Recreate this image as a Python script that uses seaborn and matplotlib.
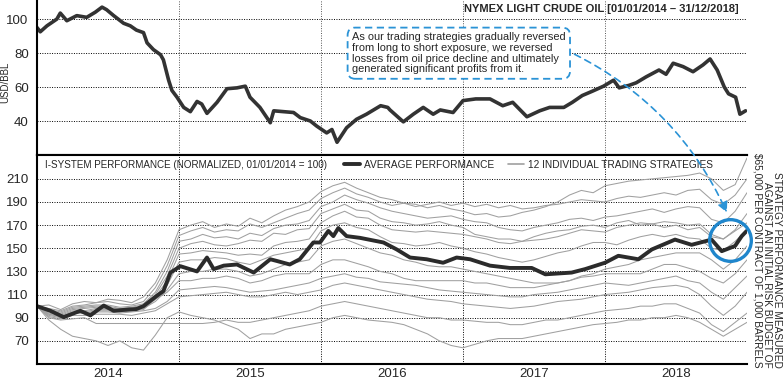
# NYMEX crude oil price vs. i-system strategy performance, 2014-2018
import matplotlib
matplotlib.use("Agg")
import matplotlib.pyplot as plt
from matplotlib.lines import Line2D
from matplotlib.patches import FancyArrowPatch
import numpy as np
import pandas as pd
import seaborn as sns

# --- crude oil price (USD/BBL) ---
oil_t = [2014.000, 2014.023, 2014.070, 2014.140, 2014.164, 2014.210, 2014.280, 2014.350,
         2014.410, 2014.458, 2014.490, 2014.540, 2014.610, 2014.657, 2014.700, 2014.750,
         2014.775, 2014.820, 2014.870, 2014.890, 2014.927, 2014.950, 2014.986, 2015.033,
         2015.080, 2015.127, 2015.160, 2015.197, 2015.268, 2015.338, 2015.408, 2015.467,
         2015.500, 2015.570, 2015.643, 2015.667, 2015.737, 2015.807, 2015.854, 2015.925,
         2015.970, 2016.040, 2016.077, 2016.113, 2016.180, 2016.250, 2016.320, 2016.420,
         2016.470, 2016.486, 2016.580, 2016.650, 2016.720, 2016.790, 2016.840, 2016.930,
         2017.000, 2017.090, 2017.190, 2017.280, 2017.350, 2017.450, 2017.540, 2017.610,
         2017.710, 2017.770, 2017.840, 2017.910, 2017.990, 2018.060, 2018.100, 2018.170,
         2018.220, 2018.290, 2018.380, 2018.430, 2018.480, 2018.550, 2018.620, 2018.690,
         2018.740, 2018.790, 2018.840, 2018.870, 2018.920, 2018.950, 2018.990]
oil_usd = [95.0, 92.5, 96.0, 100.0, 103.5, 99.0, 102.0, 101.0,
           104.0, 107.0, 105.5, 102.0, 97.5, 96.0, 93.5, 92.0,
           86.0, 82.0, 79.0, 76.0, 64.0, 58.0, 54.0, 48.0,
           45.5, 51.5, 50.0, 44.5, 51.0, 59.0, 59.5, 60.5,
           54.0, 48.0, 39.0, 46.0, 45.5, 45.0, 42.0, 40.0,
           37.0, 33.0, 35.0, 27.5, 36.0, 41.0, 44.0, 49.0,
           48.0, 46.5, 39.5, 44.0, 48.0, 44.0, 46.5, 45.0,
           52.0, 53.0, 53.0, 49.0, 51.0, 42.5, 46.0, 48.0,
           48.0, 51.0, 55.0, 57.5, 60.5, 64.0, 59.5, 61.0,
           62.5, 66.0, 70.0, 67.5, 74.0, 72.0, 69.0, 73.0,
           76.5, 70.0, 60.0, 56.0, 54.0, 44.0, 46.0]

# --- average performance (normalized, 01/01/2014 = 100) ---
avg_t = [2014.000, 2014.094, 2014.188, 2014.305, 2014.376, 2014.470, 2014.540, 2014.634,
         2014.700, 2014.750, 2014.845, 2014.890, 2014.940, 2015.010, 2015.127, 2015.197,
         2015.244, 2015.315, 2015.408, 2015.526, 2015.643, 2015.690, 2015.780, 2015.850,
         2015.946, 2015.993, 2016.052, 2016.087, 2016.122, 2016.180, 2016.275, 2016.440,
         2016.533, 2016.627, 2016.744, 2016.860, 2016.955, 2017.050, 2017.190, 2017.330,
         2017.484, 2017.580, 2017.765, 2017.860, 2018.000, 2018.094, 2018.235, 2018.330,
         2018.493, 2018.610, 2018.750, 2018.822, 2018.916, 2018.963, 2018.998]
avg_perf = [100.0, 96.0, 90.5, 96.0, 92.0, 100.5, 96.0, 97.0,
            97.5, 100.0, 109.0, 113.0, 129.0, 134.5, 130.0, 142.0,
            132.0, 135.0, 136.0, 129.0, 140.5, 139.0, 136.0, 140.5,
            155.0, 155.0, 165.0, 160.5, 167.5, 160.5, 159.0, 155.0,
            149.0, 142.0, 140.5, 137.5, 142.0, 140.5, 135.0, 133.0,
            133.0, 127.5, 129.0, 132.0, 137.5, 143.5, 140.5, 149.0,
            157.5, 153.0, 157.5, 147.5, 152.0, 160.5, 165.0]

# --- 12 individual trading strategies, monthly readings (Jan 2014 .. Jan 2019) ---
strat_t = 2014 + np.arange(61) / 12
s01 = [100, 101, 97, 102, 104, 103, 106, 105, 103, 108, 120, 140,
       166, 170, 173, 168, 171, 169, 176, 172, 178, 183, 186, 190,
       199, 204, 207, 202, 198, 194, 192, 189, 188, 185, 187, 184,
       182, 179, 180, 177, 178, 181, 183, 186, 190, 196, 200, 198,
       204, 206, 208, 209, 210, 211, 212, 213, 215, 210, 200, 205, 228]
s02 = [100, 98, 96, 100, 101, 103, 104, 102, 101, 104, 116, 135,
       161, 165, 168, 164, 166, 165, 171, 168, 172, 176, 180, 183,
       193, 198, 202, 197, 194, 190, 187, 189, 186, 188, 190, 187,
       189, 186, 188, 185, 187, 184, 185, 187, 188, 190, 192, 191,
       190, 193, 195, 194, 196, 198, 196, 200, 201, 192, 188, 196, 210]
s03 = [100, 97, 95, 99, 100, 101, 101, 99, 100, 102, 112, 130,
       156, 158, 162, 159, 160, 158, 163, 161, 167, 170, 171, 174,
       186, 190, 196, 192, 189, 185, 182, 180, 178, 176, 177, 178,
       175, 173, 172, 168, 166, 165, 168, 170, 172, 175, 176, 174,
       177, 178, 180, 182, 184, 181, 184, 186, 185, 175, 172, 182, 198]
s04 = [100, 96, 94, 98, 99, 100, 100, 98, 99, 101, 110, 126,
       150, 154, 156, 153, 152, 154, 157, 156, 163, 162, 166, 167,
       180, 184, 188, 183, 182, 176, 173, 172, 170, 171, 173, 170,
       168, 162, 160, 158, 158, 156, 160, 163, 165, 166, 169, 170,
       168, 172, 174, 170, 171, 168, 170, 166, 168, 160, 158, 166, 180]
s05 = [100, 95, 93, 97, 98, 99, 99, 97, 98, 100, 108, 122,
       145, 146, 148, 147, 146, 144, 145, 144, 152, 155, 156, 158,
       172, 178, 182, 177, 176, 170, 166, 165, 164, 165, 164, 163,
       162, 160, 158, 155, 154, 156, 157, 158, 160, 163, 166, 165,
       164, 168, 170, 172, 171, 173, 172, 170, 171, 162, 158, 165, 172]
s06 = [100, 94, 92, 96, 96, 98, 98, 96, 97, 99, 106, 118,
       138, 140, 140, 142, 141, 138, 136, 140, 144, 146, 148, 150,
       165, 170, 172, 168, 166, 160, 155, 154, 152, 153, 155, 152,
       150, 147, 145, 142, 140, 138, 140, 143, 146, 148, 152, 155,
       155, 153, 157, 160, 162, 160, 162, 159, 158, 150, 148, 156, 166]
s07 = [100, 93, 91, 95, 95, 97, 97, 95, 96, 98, 104, 114,
       128, 130, 130, 132, 132, 130, 126, 128, 132, 136, 138, 140,
       152, 156, 158, 154, 150, 146, 144, 140, 138, 135, 134, 134,
       132, 130, 128, 126, 124, 122, 120, 120, 120, 122, 126, 128,
       132, 134, 136, 140, 142, 144, 146, 146, 146, 140, 132, 140, 152]
s08 = [100, 92, 90, 94, 94, 96, 96, 95, 96, 97, 106, 112,
       122, 122, 124, 124, 126, 124, 120, 122, 126, 128, 128, 128,
       136, 140, 140, 137, 134, 130, 128, 124, 122, 122, 122, 122,
       122, 120, 120, 118, 116, 116, 116, 118, 120, 122, 125, 126,
       128, 128, 128, 128, 132, 136, 136, 133, 130, 124, 120, 128, 140]
s09 = [100, 93, 91, 94, 94, 95, 95, 94, 95, 96, 98, 104,
       114, 115, 116, 117, 116, 114, 112, 113, 114, 116, 118, 120,
       124, 126, 128, 125, 124, 121, 120, 119, 118, 116, 114, 113,
       112, 111, 110, 109, 108, 108, 110, 111, 112, 114, 116, 118,
       120, 119, 118, 120, 122, 124, 126, 122, 120, 112, 106, 116, 126]
s10 = [100, 91, 89, 92, 92, 93, 93, 93, 92, 94, 96, 102,
       108, 109, 110, 111, 112, 110, 108, 108, 110, 112, 110, 112,
       114, 118, 120, 118, 116, 114, 112, 110, 108, 106, 105, 104,
       102, 101, 100, 99, 98, 99, 100, 102, 104, 105, 106, 108,
       110, 111, 112, 114, 116, 117, 118, 116, 110, 100, 92, 100, 112]
s11 = [100, 90, 88, 89, 90, 85, 85, 85, 85, 85, 85, 85,
       85, 85, 85, 86, 88, 86, 86, 88, 90, 92, 94, 96,
       100, 102, 104, 102, 100, 98, 96, 94, 92, 90, 90, 88,
       88, 87, 86, 86, 84, 84, 86, 88, 88, 90, 92, 94,
       96, 97, 98, 100, 100, 102, 102, 98, 94, 84, 78, 86, 94]
s12 = [100, 88, 80, 74, 72, 70, 66, 70, 64, 62, 75, 90,
       95, 92, 90, 88, 84, 80, 72, 76, 76, 80, 82, 84,
       86, 90, 92, 90, 88, 87, 86, 84, 80, 76, 70, 66,
       64, 67, 70, 72, 72, 72, 74, 76, 78, 80, 82, 84,
       85, 86, 88, 88, 90, 90, 92, 90, 86, 80, 74, 80, 86]
strategies = [s01, s02, s03, s04, s05, s06, s07, s08, s09, s10, s11, s12]

year_labels = ["2014", "2015", "2016", "2017", "2018"]
title = "NYMEX LIGHT CRUDE OIL [01/01/2014 \u2013 31/12/2018]"
panel_label = "I-SYSTEM PERFORMANCE (NORMALIZED, 01/01/2014 = 100)"
side_note = ("STRATEGY PERFORMANCE MEASURED\n"
             "AGAINST AN INITIAL RISK BUDGET OF\n"
             "$65,000 PER CONTRACT OF 1,000 BARRELS")
callout = ("As our trading strategies gradually reversed\n"
           "from long to short exposure, we reversed\n"
           "losses from oil price decline and ultimately\n"
           "generated significant profits from it.")

sns.set_style("white")
plt.rcParams["font.family"] = ["Liberation Sans", "DejaVu Sans"]
blue = "#2b93d6"

W, H = 783, 383
fig = plt.figure(figsize=(W / 100, H / 100), dpi=100)
ax_top = fig.add_axes([37 / W, 1 - 155 / H, 710 / W, 155 / H])
ax_bot = fig.add_axes([37 / W, 1 - 364 / H, 710 / W, 209 / H], sharex=ax_top)

# top panel: oil price
sns.lineplot(x=oil_t, y=oil_usd, ax=ax_top, color="#333333", lw=2.6)
ax_top.set_xlim(2014, 2019)
ax_top.set_ylim(20, 111.2)
ax_top.set_yticks([40, 60, 80, 100])
ax_top.set_ylabel("USD/BBL", fontsize=7)
ax_top.yaxis.set_label_coords(-0.037, 0.47)

# bottom panel: strategies + average
df = pd.DataFrame({
    "t": np.tile(strat_t, len(strategies)),
    "v": np.concatenate(strategies),
    "strategy": np.repeat(np.arange(len(strategies)), len(strat_t)),
})
sns.lineplot(data=df, x="t", y="v", units="strategy", estimator=None,
             color="#a0a0a0", lw=0.75, ax=ax_bot)
sns.lineplot(x=avg_t, y=avg_perf, ax=ax_bot, color="#2b2b2b", lw=2.8)
ax_bot.set_ylim(50, 230.6)
ax_bot.set_yticks(np.arange(70, 211, 20))
ax_bot.set_xticks([2015, 2016, 2017, 2018])
ax_bot.set_xticklabels([])
ax_bot.set_xticks([2014.5, 2015.5, 2016.5, 2017.5, 2018.5], minor=True)
ax_bot.set_xticklabels(year_labels, minor=True, fontsize=9.5)
ax_bot.set_xlabel("")
ax_bot.set_ylabel("")

for ax in (ax_top, ax_bot):
    ax.grid(True, which="major", color="black", ls=(0, (1, 1.5)), lw=0.7)
    ax.tick_params(axis="y", direction="out", length=4, width=1, labelsize=9.5, pad=2)
    ax.spines["right"].set_visible(False)
    for s in ("left", "bottom", "top"):
        ax.spines[s].set_linewidth(1.5)
        ax.spines[s].set_color("black")
ax_top.spines["top"].set_visible(False)
ax_top.tick_params(axis="x", which="both", length=0, labelbottom=False)
ax_top.xaxis.grid(True, color="#555555")
ax_bot.tick_params(axis="x", which="major", direction="out", length=5, width=1)
ax_bot.tick_params(axis="x", which="minor", length=0, pad=3)

# legend row
ax_bot.text(0.011, 0.952, panel_label, transform=ax_bot.transAxes, va="center",
            ha="left", fontsize=7.1)
handles = [Line2D([], [], color="#2b2b2b", lw=2.8), Line2D([], [], color="#a0a0a0", lw=1.2)]
ax_bot.legend(handles, ["AVERAGE PERFORMANCE", "12 INDIVIDUAL TRADING STRATEGIES"],
              loc="center left", bbox_to_anchor=((344 - 37) / 710, 0.952), ncol=2,
              frameon=False, handlelength=1.6, handletextpad=0.4, columnspacing=1.3,
              borderpad=0, borderaxespad=0, fontsize=7.3)

# titles and notes
fig.text(739 / W, 1 - 9 / H, title, ha="right", va="center", fontsize=8.0,
         fontweight="bold")
fig.text(782 / W, 1 - 153 / H, side_note, rotation=270, ha="right", va="top",
         fontsize=7.3, linespacing=0.95)
fig.text(352 / W, 1 - 32 / H, callout, ha="left", va="top", fontsize=7.9,
         linespacing=1.1, zorder=10,
         bbox=dict(boxstyle="round,pad=0.4,rounding_size=0.7", fc="white",
                   ec=blue, lw=1.3, ls=(0, (4, 2.5))))

# highlight circle and dashed arrow
ax_bot.plot([2018.88], [157.5], marker="o", ms=30, mfc="none", mec="#1f86cc",
            mew=2.4, clip_on=False, zorder=6)
arrow = FancyArrowPatch((572 / W, 1 - 53 / H), (728 / W, 1 - 215 / H),
                        transform=fig.transFigure, connectionstyle="arc3,rad=-0.18",
                        arrowstyle="-|>,head_length=0.5,head_width=0.25",
                        mutation_scale=12, color=blue, lw=1.2, ls=(0, (4, 3)),
                        zorder=10)
fig.add_artist(arrow)

fig.savefig("out.png", dpi=100)
